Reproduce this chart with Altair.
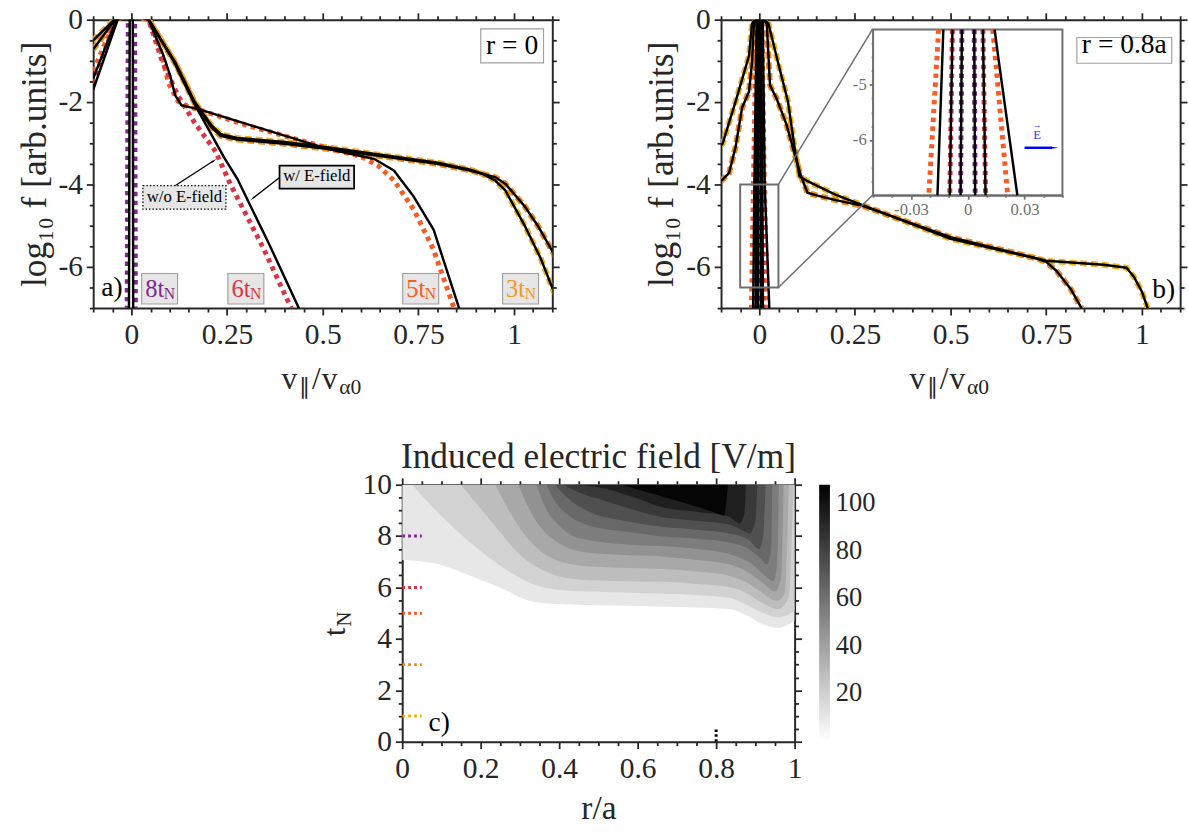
import altair as alt
import pandas as pd

FONT = "Liberation Serif"
AX = "#262626"
GRAY = "#6E6E6E"
C1, C3, C5, C6, C8 = "#EDB41E", "#F08A1C", "#FA5A23", "#DC3447", "#7E2A8C"

# ---------------- panel a (r = 0) ----------------
XA, YA = [-0.1, 1.1], [-7, 0]
a1_x = [-0.1, -0.045, 0.0, 0.045, 0.114, 0.165, 0.208, 0.233, 0.276, 0.4, 0.515, 0.65, 0.8, 0.885, 0.917, 0.95, 0.977, 1.028, 1.07, 1.097, 1.12]
a1_y = [-0.5, 0.0, 0.15, 0.0, -1.03, -1.99, -2.55, -2.78, -2.87, -2.97, -3.1, -3.28, -3.47, -3.64, -3.74, -3.9, -4.14, -5.0, -5.8, -6.44, -6.95]
a3_x = [-0.1, -0.043, 0.0, 0.045, 0.114, 0.165, 0.208, 0.233, 0.276, 0.4, 0.515, 0.65, 0.8, 0.885, 0.917, 0.95, 0.977, 1.028, 1.062, 1.097, 1.12]
a3_y = [-0.72, 0.0, 0.15, 0.0, -1.05, -2.02, -2.6, -2.82, -2.91, -3.01, -3.14, -3.31, -3.5, -3.66, -3.74, -3.82, -3.98, -4.53, -5.0, -5.57, -5.95]
a5n_x = [-0.1, -0.042, 0.0, 0.045, 0.075, 0.097, 0.122, 0.15, 0.175, 0.3, 0.515, 0.6, 0.644, 0.686, 0.738, 0.789, 0.845]
a5n_y = [-1.25, 0.0, 0.15, 0.0, -0.7, -1.55, -1.98, -2.12, -2.18, -2.56, -3.12, -3.32, -3.54, -3.9, -4.61, -5.57, -7.05]
a5e_x = [-0.1, -0.04, 0.0, 0.045, 0.084, 0.101, 0.114, 0.131, 0.175, 0.3, 0.515, 0.635, 0.686, 0.738, 0.79, 0.823, 0.858]
a5e_y = [-1.43, 0.0, 0.15, 0.0, -0.88, -1.35, -1.83, -2.08, -2.17, -2.53, -3.14, -3.38, -3.66, -4.3, -5.1, -6.05, -7.05]
a6n_x = [-0.1, -0.04, 0.0, 0.045, 0.08, 0.122, 0.165, 0.22, 0.259, 0.345, 0.42]
a6n_y = [-1.55, 0.0, 0.15, 0.0, -1.0, -1.85, -2.5, -3.2, -4.0, -5.55, -7.05]
a6e_x = [-0.1, -0.036, 0.0, 0.045, 0.11, 0.165, 0.242, 0.276, 0.36, 0.44]
a6e_y = [-1.7, 0.0, 0.15, 0.0, -1.0, -2.05, -3.34, -3.85, -5.45, -7.05]
a8n_x = [-0.012, -0.009, 0.0, 0.009, 0.011]
a8n_y = [-7.05, 0.0, 0.15, 0.0, -7.05]
a8e_x = [-0.0065, -0.0045, 0.0, 0.0035, 0.0045]
a8e_y = [-7.05, 0.0, 0.15, 0.0, -7.05]

# time labels in panel a: (box x1, box x2, text, colour)
a_labels = [(0.0267, 0.1205, "8t", C8), (0.252, 0.346, "6t", C6),
            (0.709, 0.803, "5t", C5), (0.970, 1.064, "3t", "#F09A1E")]
a_lab_y = (-6.16, -6.90)

# ---------------- panel b (r = 0.8a) ----------------
b1_x = [-0.1, -0.096, -0.062, -0.027, -0.019, 0.0, 0.024, 0.049, 0.075, 0.092, 0.105, 0.126, 0.2, 0.27, 0.5, 0.75, 0.9, 0.96, 0.979, 1.0, 1.017]
b1_y = [-3.05, -3.01, -1.99, -0.88, -0.1, 0.15, -0.1, -1.04, -1.99, -3.09, -3.8, -3.92, -4.25, -4.5, -5.32, -5.85, -5.95, -6.02, -6.24, -6.6, -7.05]
b3_x = [-0.1, -0.096, -0.079, -0.062, -0.045, -0.027, -0.019, -0.014, 0.0, 0.0195, 0.028, 0.045, 0.071, 0.092, 0.109, 0.126, 0.152, 0.2, 0.27, 0.5, 0.72, 0.75, 0.777, 0.815, 0.845]
b3_y = [-3.92, -3.88, -3.72, -3.09, -2.14, -1.75, -1.04, -0.1, 0.15, -0.1, -1.59, -1.91, -2.54, -3.25, -3.8, -4.2, -4.27, -4.38, -4.52, -5.28, -5.78, -5.88, -6.1, -6.55, -7.05]
bc_y = [0.15, 0.0, -4.0, -7.0]
b8_l = [-0.0005, -0.0015, -0.0031, -0.0038]
b8_r = [0.0005, 0.0015, 0.0034, 0.0039]
b6_l = [-0.002, -0.004, -0.0081, -0.0095]
b6_r = [0.002, 0.004, 0.008, 0.0094]
b5n_l = [-0.005, -0.008, -0.0154, -0.0206]
b5n_r = [0.004, 0.007, 0.0132, 0.0211]
b5e_l = [-0.004, -0.007, -0.0129, -0.016]
b5e_r_x = [0.005, 0.009, 0.0142, 0.0163, 0.0262]
b5e_r_y = [0.15, 0.0, -4.0, -4.55, -7.0]

# ---------------- panel c (induced E field contours) ----------------
XC, YC = [0, 1], [0, 10]
band_vals = [10, 19, 28, 37, 46, 55, 64, 74, 84, 95, 106]
band_r = [
    [0, .083, .167, .25, .333, .417, .5, .583, .667, .75, .833, .875, .917, .958, 1.0],
    [.025, .083, .167, .25, .333, .417, .5, .583, .667, .75, .833, .875, .917, .958, 1.0],
    [.15, .208, .25, .292, .333, .375, .417, .5, .583, .667, .75, .833, .875, .917, .958, .985, .997],
    [.237, .275, .317, .35, .392, .458, .583, .667, .75, .833, .875, .917, .955, .975, .985],
    [.296, .333, .367, .4, .458, .583, .667, .75, .833, .875, .917, .95, .965, .972],
    [.342, .367, .4, .442, .542, .667, .75, .833, .892, .925, .945, .955, .96],
    [.367, .392, .425, .475, .583, .667, .75, .833, .883, .915, .93, .94, .943],
    [.39, .42, .47, .583, .667, .75, .833, .883, .91, .92, .926],
    [.41, .45, .5, .583, .667, .75, .833, .87, .885, .9, .905],
    [.433, .5, .583, .667, .75, .833, .86, .872, .876],
    [.56, .65, .75, .8, .82, .83],
]
band_t = [
    [7.07, 6.94, 6.5, 5.99, 5.45, 5.35, 5.31, 5.29, 5.25, 5.22, 5.16, 4.94, 4.58, 4.43, 4.71],
    [10, 9.04, 7.83, 6.85, 6.14, 5.88, 5.83, 5.8, 5.76, 5.71, 5.6, 5.35, 5.03, 4.84, 5.09],
    [10, 8.92, 8.15, 7.39, 6.88, 6.56, 6.37, 6.27, 6.24, 6.22, 6.14, 6.02, 5.8, 5.41, 5.16, 5.6, 10],
    [10, 8.92, 7.96, 7.45, 7.07, 6.85, 6.76, 6.72, 6.62, 6.45, 6.22, 5.8, 5.48, 5.8, 10],
    [10, 8.79, 8.09, 7.71, 7.39, 7.25, 7.2, 7.07, 6.9, 6.65, 6.2, 5.85, 6.3, 10],
    [10, 9.04, 8.41, 7.96, 7.71, 7.6, 7.5, 7.3, 6.9, 6.45, 6.25, 6.8, 10],
    [10, 9.3, 8.79, 8.41, 8.15, 7.98, 7.9, 7.75, 7.5, 7.1, 6.9, 7.5, 10],
    [10, 9.5, 9.0, 8.55, 8.35, 8.25, 8.1, 7.85, 7.5, 8.0, 10],
    [10, 9.7, 9.45, 9.05, 8.72, 8.6, 8.45, 8.2, 8.1, 8.6, 10],
    [10, 9.9, 9.55, 9.1, 8.95, 8.75, 8.5, 8.9, 10],
    [10, 9.6, 9.15, 8.9, 8.8, 10],
]
c_marks_t = [8, 6, 5, 3, 1]
c_marks_col = [C8, C6, C5, C3, C1]

# ---------------- helpers ----------------
WA, HA = 468, 294
WB, HB = 468, 294
WC, HC = 400, 262


def sc(dom, rng=None):
    kw = dict(domain=dom, nice=False, zero=False)
    if rng is not None:
        kw["range"] = rng
    return alt.Scale(**kw)


def enc(xd, yd, xr=None, yr=None, xf="x", yf="y"):
    return dict(x=alt.X(f"{xf}:Q", scale=sc(xd, xr), axis=None),
                y=alt.Y(f"{yf}:Q", scale=sc(yd, yr), axis=None))


def line(x, y, color, width, dash=None, xd=XA, yd=YA, xr=None, yr=None, clip=True):
    d = pd.DataFrame({"x": x, "y": y, "i": list(range(len(x)))})
    kw = dict(color=color, strokeWidth=width, clip=clip, strokeCap="butt", strokeJoin="round")
    if dash:
        kw["strokeDash"] = dash
    return alt.Chart(d).mark_line(**kw).encode(order="i:Q", **enc(xd, yd, xr, yr))


def box(x1, x2, y1, y2, fill, stroke, sw=1.5, dash=None, fop=1.0, xd=XA, yd=YA, xr=None, yr=None):
    d = pd.DataFrame({"x": [x1], "x2": [x2], "y": [y1], "y2": [y2]})
    kw = dict(fill=fill, stroke=stroke, strokeWidth=sw, fillOpacity=fop)
    if dash:
        kw["strokeDash"] = dash
    return alt.Chart(d).mark_rect(**kw).encode(x2="x2:Q", y2="y2:Q", **enc(xd, yd, xr, yr))


def text(x, y, s, size, color="black", dx=0, dy=0, align="center", xd=XA, yd=YA, xr=None, yr=None):
    d = pd.DataFrame({"x": [x], "y": [y], "s": [s]})
    return alt.Chart(d).mark_text(font=FONT, fontSize=size, color=color, align=align,
                                  baseline="alphabetic", dx=dx, dy=dy).encode(
        text="s:N", **enc(xd, yd, xr, yr))


def ptext(s, px, py, size, color=AX, angle=0):
    d = pd.DataFrame({"s": [s]})
    return alt.Chart(d).mark_text(font=FONT, fontSize=size, color=color, align="center",
                                  baseline="alphabetic", angle=angle).encode(
        text="s:N", x=alt.value(px), y=alt.value(py))


def head(x, y, ang, color="black", size=60, xd=XA, yd=YA, xr=None, yr=None):
    d = pd.DataFrame({"x": [x], "y": [y]})
    return alt.Chart(d).mark_point(shape="wedge", filled=True, size=size, angle=ang,
                                   color=color, opacity=1).encode(**enc(xd, yd, xr, yr))


def ax(orient, vals, test, labels, color=AX, lsize=30, lpad=5, title=None, tpad=5, offset=None,
       major=7, minor=4, tsize=34):
    kw = dict(orient=orient, values=vals, domainColor=color, domainWidth=2, tickColor=color,
              tickWidth=1.8, tickSize={"condition": {"test": test, "value": major}, "value": minor},
              grid=False, labels=labels, title=title)
    if labels:
        kw.update(labelFont=FONT, labelFontSize=lsize, labelColor=color, labelPadding=lpad,
                  labelExpr=f"({test}) ? '' + datum.value : ''", labelOverlap=False,
                  labelFlush=False, labelBound=False)
    if title:
        kw.update(titleFont=FONT, titleFontSize=tsize, titleFontWeight="normal", titleColor=color,
                  titlePadding=tpad)
    if offset is not None:
        kw["offset"] = offset
    return kw


def axis_layer(xd, yd, xax, yax, xr=None, yr=None):
    d = pd.DataFrame({"x": [xd[0]], "y": [yd[0]]})
    return alt.Chart(d).mark_point(opacity=0).encode(
        x=alt.X("x:Q", scale=sc(xd, xr), axis=alt.Axis(**xax)),
        y=alt.Y("y:Q", scale=sc(yd, yr), axis=alt.Axis(**yax)))


XT = "abs(datum.value*4-round(datum.value*4))<1e-6"
YT = "abs(datum.value*0.5-round(datum.value*0.5))<1e-6"
XTC = "abs(datum.value*5-round(datum.value*5))<1e-6"
XTI = "abs(datum.value/0.03-round(datum.value/0.03))<1e-6"
YTI = "datum.value==-5||datum.value==-6"
xv_ab = [round(-0.1 + 0.05 * k, 4) for k in range(25)]
yv_ab = [-7 + 0.5 * k for k in range(15)]
xv_c = [round(0.05 * k, 4) for k in range(21)]
yv_c = [0.5 * k for k in range(21)]
xv_in = [round(-0.05 + 0.01 * k, 4) for k in range(11)]
yv_in = [-7 + 0.25 * k for k in range(13)]
YTITLE = "log\u2081\u2080 f   [arb.units]"


def vtitle(W, H):
    cx = W / 2
    return [ptext("v", cx - 34, H + 82, 32), ptext("\u2225", cx - 18.5, H + 88, 22),
            ptext("/", cx - 6.5, H + 82, 32), ptext("v", cx + 7, H + 82, 32),
            ptext("\u03b10", cx + 28, H + 88, 22)]


def ab_axes(xd, yd):
    return [axis_layer(xd, yd, ax("bottom", xv_ab, XT, True, lpad=5),
                       ax("left", yv_ab, YT, True, lpad=4, title=YTITLE, tpad=5, tsize=36)),
            axis_layer(xd, yd, ax("top", xv_ab, XT, False), ax("right", yv_ab, YT, False))]


# ---------------- build panel a ----------------
DASH_Y = [7, 4]
DOT = [4.5, 4.5]
a_layers = [
    line(a1_x, a1_y, C1, 6, DASH_Y), line(a3_x, a3_y, C3, 6, DASH_Y),
    line(a5n_x, a5n_y, C5, 5, DOT), line(a6n_x, a6n_y, C6, 5, DOT), line(a8n_x, a8n_y, C8, 4.5, DOT),
    line(a1_x, a1_y, "black", 2.5), line(a3_x, a3_y, "black", 2.5), line(a5e_x, a5e_y, "black", 2.5),
    line(a6e_x, a6e_y, "black", 2.5), line(a8e_x, a8e_y, "black", 2.5),
]
for x1, x2, s, col in a_labels:
    cx = (x1 + x2) / 2
    a_layers += [box(x1, x2, a_lab_y[0], a_lab_y[1], "#E6E6E6", "#A0A0A0", 1.2),
                 text(cx, (a_lab_y[0] + a_lab_y[1]) / 2, s, 25, col, dx=-5, dy=8),
                 text(cx, (a_lab_y[0] + a_lab_y[1]) / 2, "N", 16, col, dx=10, dy=10)]
a_layers += [
    line([0.114, 0.214], [-4.03, -3.43], "black", 1.3),
    head(0.214, -3.43, 57.4, size=45),
    box(0.030, 0.247, -4.03, -4.60, "#E6E6E6", "black", 1.3, dash=[1.5, 2]),
    text(0.1385, -4.415, "w/o E-field", 17),
    line([0.389, 0.318], [-3.82, -4.33], "black", 1.3),
    head(0.318, -4.33, 233, size=45),
    box(0.387, 0.582, -3.54, -4.10, "#E6E6E6", "black", 1.8),
    text(0.4845, -3.91, "w/ E-field", 17),
    box(0.913, 1.077, -0.222, -1.05, "white", "#A0A0A0", 1.2),
    text(0.995, -0.835, "r = 0", 28),
    text(-0.051, -6.71, "a)", 28),
]
a_layers += vtitle(WA, HA)
a_layers += ab_axes(XA, YA)
panel_a = alt.layer(*a_layers).resolve_scale(x="independent", y="independent").properties(width=WA, height=HA)

# ---------------- build panel b ----------------
XI, YI = [-0.05, 0.05], [-7, -4]
XIR, YIR = [155, 348], [179, 10]


def inset_part(xs, ys):
    pts = [(x, y) for x, y in zip(xs, ys) if y <= -4]
    return [p[0] for p in pts], [p[1] for p in pts]


b_layers = [line(b1_x, b1_y, C1, 6, DASH_Y), line(b3_x, b3_y, C3, 6, DASH_Y)]
central_col = [(b5n_l, bc_y, C5), (b5n_r, bc_y, C5), (b6_l, bc_y, C6), (b6_r, bc_y, C6),
               (b8_l, bc_y, C8), (b8_r, bc_y, C8)]
central_blk = [(b5e_l, bc_y), (b5e_r_x, b5e_r_y), (b6_l, bc_y), (b6_r, bc_y), (b8_l, bc_y), (b8_r, bc_y)]
for xs, ys, col in central_col:
    b_layers.append(line(xs, ys, col, 5, DOT))
b_layers += [line(b1_x, b1_y, "black", 2.5), line(b3_x, b3_y, "black", 2.5)]
for xs, ys in central_blk:
    b_layers.append(line(xs, ys, "black", 2.5))
# zoom rectangle and connectors
b_layers += [box(-0.05, 0.05, -4.0, -6.5, "white", GRAY, 2, fop=0),
             line([0.05, 0.2957], [-4.0, -0.238], GRAY, 1.5, clip=False),
             line([0.05, 0.2957], [-6.5, -4.262], GRAY, 1.5, clip=False)]
# inset
b_layers.append(box(-0.05, 0.05, -7, -4, "white", GRAY, 2, xd=XI, yd=YI, xr=XIR, yr=YIR))
for xs, ys, col in central_col:
    ix, iy = inset_part(xs, ys)
    b_layers.append(line(ix, iy, col, 5, DOT, xd=XI, yd=YI, xr=XIR, yr=YIR, clip=False))
for xs, ys in central_blk:
    ix, iy = inset_part(xs, ys)
    b_layers.append(line(ix, iy, "black", 2.5, xd=XI, yd=YI, xr=XIR, yr=YIR, clip=False))
b_layers += [
    line([0.03, 0.0445], [-6.14, -6.14], "#0000FF", 2.5, xd=XI, yd=YI, xr=XIR, yr=YIR, clip=False),
    head(0.0455, -6.14, 90, color="#0000FF", size=60, xd=XI, yd=YI, xr=XIR, yr=YIR),
    text(0.0367, -5.99, "E", 13, "#3030FF", xd=XI, yd=YI, xr=XIR, yr=YIR),
    text(0.0367, -5.99, "\u2192", 9, "#3030FF", dy=-12, xd=XI, yd=YI, xr=XIR, yr=YIR),
    axis_layer(XI, YI, ax("bottom", xv_in, XTI, True, color="#707070", lsize=17, lpad=3, offset=179 - HB, major=4, minor=2),
               ax("left", yv_in, YTI, True, color="#707070", lsize=17, lpad=3, offset=-155, major=4, minor=2),
               xr=XIR, yr=YIR),
]
b_layers += [
    box(0.830, 1.078, -0.433, -1.057, "white", "#A0A0A0", 1.2),
    text(0.954, -0.80, "r = 0.8a", 28),
    text(1.057, -6.75, "b)", 28),
]
b_layers += vtitle(WB, HB)
b_layers += ab_axes(XA, YA)
panel_b = alt.layer(*b_layers).resolve_scale(x="independent", y="independent").properties(width=WB, height=HB)

# ---------------- build panel c ----------------
CSCALE = alt.Scale(domain=[0, 108], range=["#ffffff", "#000000"], interpolate="rgb")
LEG = alt.Legend(title=None, orient="right", gradientLength=261, gradientThickness=11,
                 values=[20, 40, 60, 80, 100], labelFont=FONT, labelFontSize=27, labelColor=AX,
                 offset=17, labelOffset=6, gradientStrokeWidth=0, labelOverlap=False)
c_layers = []
for r, t, v in zip(band_r, band_t, band_vals):
    d = pd.DataFrame({"r": r, "t": t, "v": [v] * len(r)})
    c_layers.append(alt.Chart(d).mark_area(interpolate="monotone", clip=True).encode(
        x=alt.X("r:Q", scale=sc(XC), axis=None),
        y=alt.Y("t:Q", scale=sc(YC), axis=None, stack=None),
        y2=alt.datum(10.0),
        color=alt.Color("v:Q", scale=CSCALE, legend=LEG)))
for tv, col in zip(c_marks_t, c_marks_col):
    c_layers.append(line([0.0, 0.05], [tv, tv], col, 3, [3, 3], xd=XC, yd=YC))
c_layers.append(line([0.8, 0.8], [0.0, 0.51], "black", 3, [2.5, 2.5], xd=XC, yd=YC))
c_layers.append(text(0.094, 0.41, "c)", 28, xd=XC, yd=YC))
c_layers += [ptext("t", -58, 150, 32, angle=270), ptext("N", -52, 137, 21, angle=270)]
c_layers += [
    axis_layer(XC, YC, ax("bottom", xv_c, XTC, True, lpad=5, title="r/a", tpad=9),
               ax("left", yv_c, YT, True, lpad=4)),
    axis_layer(XC, YC, ax("top", xv_c, XTC, False), ax("right", yv_c, YT, False)),
]
panel_c = alt.layer(*c_layers).resolve_scale(x="independent", y="independent").properties(
    width=WC, height=HC,
    title=alt.Title("Induced electric field [V/m]", font=FONT, fontSize=36, fontWeight="normal",
                    color=AX, anchor="middle", frame="group", offset=-6))

spacer = alt.Chart(pd.DataFrame({"x": [0]})).mark_point(opacity=0).encode(
    x=alt.X("x:Q", axis=None), y=alt.Y("x:Q", axis=None)).properties(width=231, height=10)

top = alt.hconcat(panel_a, panel_b, spacing=86).resolve_scale(color="independent")
bottom = alt.hconcat(spacer, panel_c, spacing=0).resolve_scale(color="independent")
chart = alt.vconcat(top, bottom, spacing=42).resolve_scale(color="independent").properties(
    padding={"left": 17, "top": -3, "right": 0, "bottom": 0}, background="white"
).configure_view(strokeWidth=0, stroke="transparent")

chart.save("out.html", embed_options={"renderer": "svg", "actions": False})
